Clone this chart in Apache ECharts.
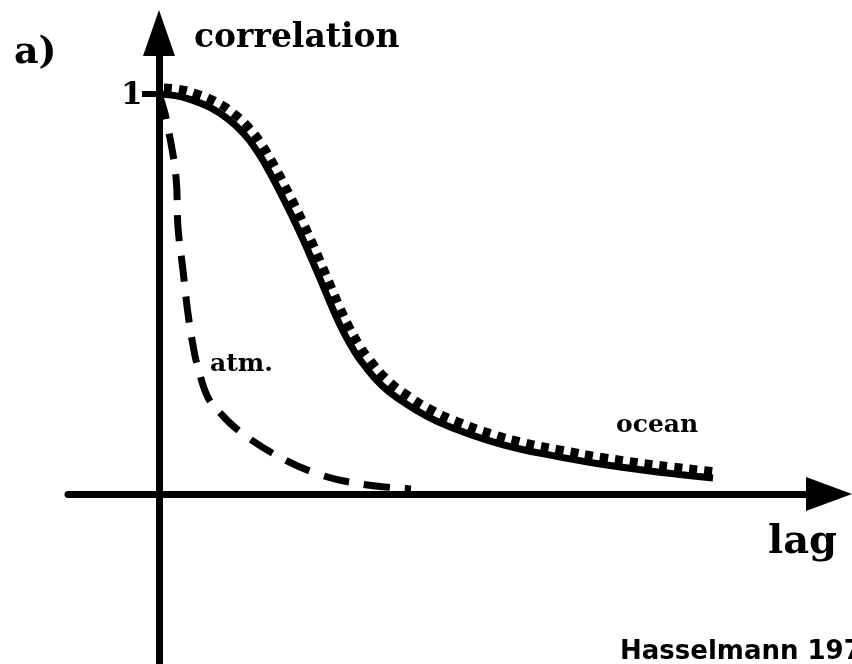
<!DOCTYPE html>
<html>
<head>
<meta charset="utf-8">
<script src="https://cdn.jsdelivr.net/npm/echarts@6/dist/echarts.min.js"></script>
<style>
  html, body { margin: 0; padding: 0; background: #ffffff; }
  #chart { width: 852px; height: 664px; }
</style>
</head>
<body>
<div id="chart"></div>
<script>
// Autocorrelation vs. lag: atmosphere decays fast, ocean slowly.
const atmLag  = [0, 0.05, 0.09, 0.17, 0.19, 0.24, 0.29, 0.35, 0.39, 0.49, 0.64, 0.80, 1.15, 1.59, 2.02, 2.52];
const atmCorr = [1.0, 0.96, 0.917, 0.792, 0.667, 0.559, 0.451, 0.358, 0.316, 0.241, 0.195, 0.158, 0.100, 0.050, 0.025, 0.0125];

const oceanLag  = [0, 0.16, 0.31, 0.51, 0.69, 0.85, 0.98, 1.11, 1.25, 1.38, 1.50, 1.59, 1.67, 1.76, 1.85, 1.94, 2.03, 2.23, 2.45, 2.69, 2.95, 3.29, 3.61, 3.94, 4.41, 5.08, 5.54];
const oceanCorr = [1.0, 0.996, 0.9865, 0.9665, 0.9375, 0.90, 0.8575, 0.8025, 0.735, 0.669, 0.6025, 0.55, 0.5025, 0.45, 0.4025, 0.3625, 0.329, 0.271, 0.229, 0.193, 0.164, 0.134, 0.1125, 0.096, 0.075, 0.0525, 0.04];

const yTickValues = [1];
const yTickLabels = ['1'];

const pairs = (xs, ys) => xs.map((x, i) => [x, ys[i]]);

const SERIF = '"DejaVu Serif", "Liberation Serif", serif';
const X_MIN = -0.91, X_MAX = 6.70;
const Y_MIN = -0.425, Y_MAX = 1.1525;

const chart = echarts.init(document.getElementById('chart'), null, { renderer: 'canvas' });

chart.setOption({
  animation: false,
  backgroundColor: '#ffffff',
  grid: [
    { left: 68, right: 23, top: 33, bottom: 0 },
    // same scale, nudged up-right: carries the comb of the ocean curve
    { left: 73, right: 18, top: 27, bottom: 6 }
  ],
  xAxis: [
    {
      type: 'value', gridIndex: 0, min: X_MIN, max: X_MAX,
      axisLine: {
        onZero: true,
        symbol: ['none', 'triangle'],
        symbolSize: [34, 46],
        lineStyle: { color: '#000', width: 7 }
      },
      axisTick: { show: false },
      axisLabel: { show: false },
      splitLine: { show: false }
    },
    {
      type: 'value', gridIndex: 1, min: X_MIN, max: X_MAX, show: false,
      splitLine: { show: false }
    }
  ],
  yAxis: [
    {
      type: 'value', gridIndex: 0, min: Y_MIN, max: Y_MAX,
      axisLine: {
        onZero: true,
        symbol: ['none', 'triangle'],
        symbolSize: [32, 46],
        lineStyle: { color: '#000', width: 7 }
      },
      axisTick: {
        show: true, inside: false, length: 17,
        customValues: yTickValues,
        lineStyle: { color: '#000', width: 6 }
      },
      axisLabel: { show: false },
      splitLine: { show: false }
    },
    {
      type: 'value', gridIndex: 1, min: Y_MIN, max: Y_MAX, show: false,
      splitLine: { show: false }
    }
  ],
  series: [
    {
      name: 'atm.',
      type: 'line', xAxisIndex: 0, yAxisIndex: 0,
      data: pairs(atmLag, atmCorr),
      smooth: 0.4, symbol: 'none',
      lineStyle: { color: '#000', width: 7, type: [26, 15], cap: 'butt' }
    },
    {
      name: 'ocean',
      type: 'line', xAxisIndex: 0, yAxisIndex: 0,
      data: pairs(oceanLag, oceanCorr),
      smooth: 0.5, symbol: 'none',
      lineStyle: { color: '#000', width: 7 }
    },
    {
      name: 'ocean comb',
      type: 'line', xAxisIndex: 1, yAxisIndex: 1,
      data: pairs(oceanLag, oceanCorr),
      smooth: 0.5, symbol: 'none',
      lineStyle: { color: '#000', width: 9, type: [8, 7], cap: 'butt' }
    }
  ],
  graphic: [
    { type: 'text', left: 14, top: 34,  style: { text: 'a)', font: 'bold 38px ' + SERIF, fill: '#000' } },
    { type: 'text', left: 121, top: 80, style: { text: yTickLabels[0], font: 'bold 31px ' + SERIF, fill: '#000' } },
    { type: 'text', left: 194, top: 22, style: { text: 'correlation', font: 'bold 33px ' + SERIF, fill: '#000' } },
    { type: 'text', left: 210, top: 352, style: { text: 'atm.', font: 'bold 25px ' + SERIF, fill: '#000' } },
    { type: 'text', left: 616, top: 413, style: { text: 'ocean', font: 'bold 25px ' + SERIF, fill: '#000' } },
    { type: 'text', left: 768, top: 523, style: { text: 'lag', font: 'bold 40px ' + SERIF, fill: '#000' } },
    { type: 'text', left: 620, top: 639, style: { text: 'Hasselmann 1976', font: 'bold 26px "DejaVu Sans", Verdana, sans-serif', fill: '#000' } }
  ]
});
</script>
</body>
</html>
